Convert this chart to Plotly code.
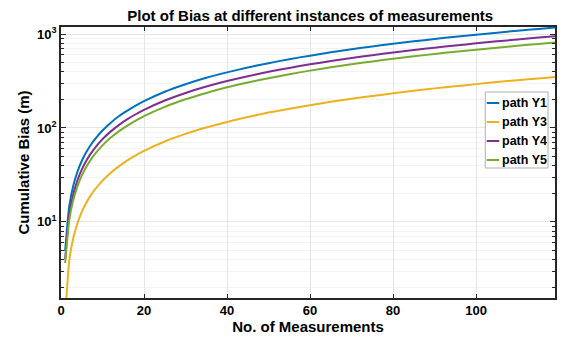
import plotly.graph_objects as go

# Measurement index (sampled along the curves)
n = [1, 2, 3, 4, 5, 6, 7, 8, 10, 12, 14, 16, 18, 20, 25, 30, 35, 40, 45, 50,
     55, 60, 65, 70, 75, 80, 85, 90, 95, 100, 105, 110, 115, 119]

# Cumulative bias (m)
path_y1 = [4.9, 14.8, 24.7, 34.6, 44.5, 54.4, 64.3, 74.2, 94, 114, 134, 153, 173, 193,
           243, 292, 342, 391, 441, 490, 540, 589, 639, 688, 738, 787, 837, 886,
           936, 985, 1035, 1084, 1134, 1173]
path_y3 = [0.95, 3.9, 6.85, 9.8, 12.8, 15.7, 18.7, 21.6, 27.5, 33.4, 39.3, 45.2, 51.1, 57.0,
           71.8, 86.5, 101, 116, 131, 146, 160, 175, 190, 205, 219, 234, 249, 264,
           278, 293, 308, 323, 337, 349]
path_y4 = [4.0, 12.0, 20.0, 28.0, 36.0, 44.0, 52.0, 60.0, 76, 92, 108, 124, 140, 156,
           196, 236, 276, 316, 356, 396, 436, 476, 516, 556, 596, 636, 676, 716,
           756, 796, 836, 876, 916, 948]
path_y5 = [3.65, 10.5, 17.4, 24.2, 31.1, 37.9, 44.8, 51.6, 65.3, 79.0, 92.7, 106, 120, 134,
           168, 202, 236, 271, 305, 339, 374, 408, 442, 477, 511, 545, 579, 614,
           648, 682, 716, 750, 785, 812]

series_names = ["path Y1", "path Y3", "path Y4", "path Y5"]
series_values = [path_y1, path_y3, path_y4, path_y5]
series_colors = ["#0072BD", "#EDB120", "#7E2F8E", "#77AC30"]

fig = go.Figure()
for name, ys, col in zip(series_names, series_values, series_colors):
    fig.add_trace(go.Scatter(x=n, y=ys, mode="lines", name=name, showlegend=False,
                             line=dict(color=col, width=2, shape="spline", smoothing=0.6)))

font = "Liberation Sans, Arial, sans-serif"

# Custom compact legend (MATLAB style), in plot-area (paper) coordinates
W, H = 496.0, 271.0          # plot area size in px
def px(x):  # px from plot-area left
    return x / W
def py(y):  # px from plot-area top
    return 1 - y / H

box_l, box_r, box_t, box_b = 426, 489, 65, 141
shapes = [dict(type="rect", xref="paper", yref="paper",
               x0=px(box_l), x1=px(box_r), y0=py(box_b), y1=py(box_t),
               line=dict(color="#b0b0b0", width=1), fillcolor="white", layer="above")]
annotations = []
for i, (name, col) in enumerate(zip(series_names, series_colors)):
    yy = 76 + i * 19.0
    shapes.append(dict(type="line", xref="paper", yref="paper",
                       x0=px(box_l + 1.5), x1=px(box_l + 14), y0=py(yy), y1=py(yy),
                       line=dict(color=col, width=2), layer="above"))
    annotations.append(dict(xref="paper", yref="paper", x=px(box_l + 15), y=py(yy),
                            xanchor="left", yanchor="middle", showarrow=False,
                            text="<b>%s</b>" % name,
                            font=dict(size=12.5, family=font, color="#000")))

fig.update_layout(
    width=562, height=337,
    margin=dict(l=61, r=5, t=27, b=39),
    paper_bgcolor="white", plot_bgcolor="white",
    font=dict(family=font, size=13, color="#000"),
    title=dict(text="<b>Plot of Bias at different instances of measurements</b>",
               x=0.552, xanchor="center", y=0.952, yanchor="middle",
               font=dict(size=15, family=font, color="#000")),
    showlegend=False,
    shapes=shapes,
    annotations=annotations,
)
fig.update_xaxes(
    range=[0, 119], tickvals=[0, 20, 40, 60, 80, 100],
    ticktext=["<b>0</b>", "<b>20</b>", "<b>40</b>", "<b>60</b>", "<b>80</b>", "<b>100</b>"],
    ticks="inside", ticklen=4, tickcolor="#262626",
    showline=True, linecolor="#262626", linewidth=1.5, mirror="allticks",
    showgrid=True, gridcolor="#e6e6e6", gridwidth=1, zeroline=False,
    tickfont=dict(size=13, family=font),
    title=dict(text="<b>No. of Measurements</b>", font=dict(size=15, family=font), standoff=3),
)
fig.update_yaxes(
    type="log", range=[0.19, 3.075],
    tickvals=[10, 100, 1000],
    ticktext=["<b>10<sup>1</sup></b>", "<b>10<sup>2</sup></b>", "<b>10<sup>3</sup></b>"],
    ticks="inside", ticklen=5, tickcolor="#262626",
    showline=True, linecolor="#262626", linewidth=1.5, mirror="allticks",
    showgrid=True, gridcolor="#e6e6e6", gridwidth=1, zeroline=False,
    minor=dict(tickvals=[2, 3, 4, 5, 6, 7, 8, 9, 20, 30, 40, 50, 60, 70, 80, 90, 200, 300, 400, 500,
                         600, 700, 800, 900],
               ticks="inside", ticklen=3, tickcolor="#262626",
               showgrid=True, gridcolor="#f3f3f3", gridwidth=1),
    tickfont=dict(size=13, family=font),
    title=dict(text="<b>Cumulative Bias (m)</b>", font=dict(size=15, family=font), standoff=4),
)

fig.write_html("out.html")
